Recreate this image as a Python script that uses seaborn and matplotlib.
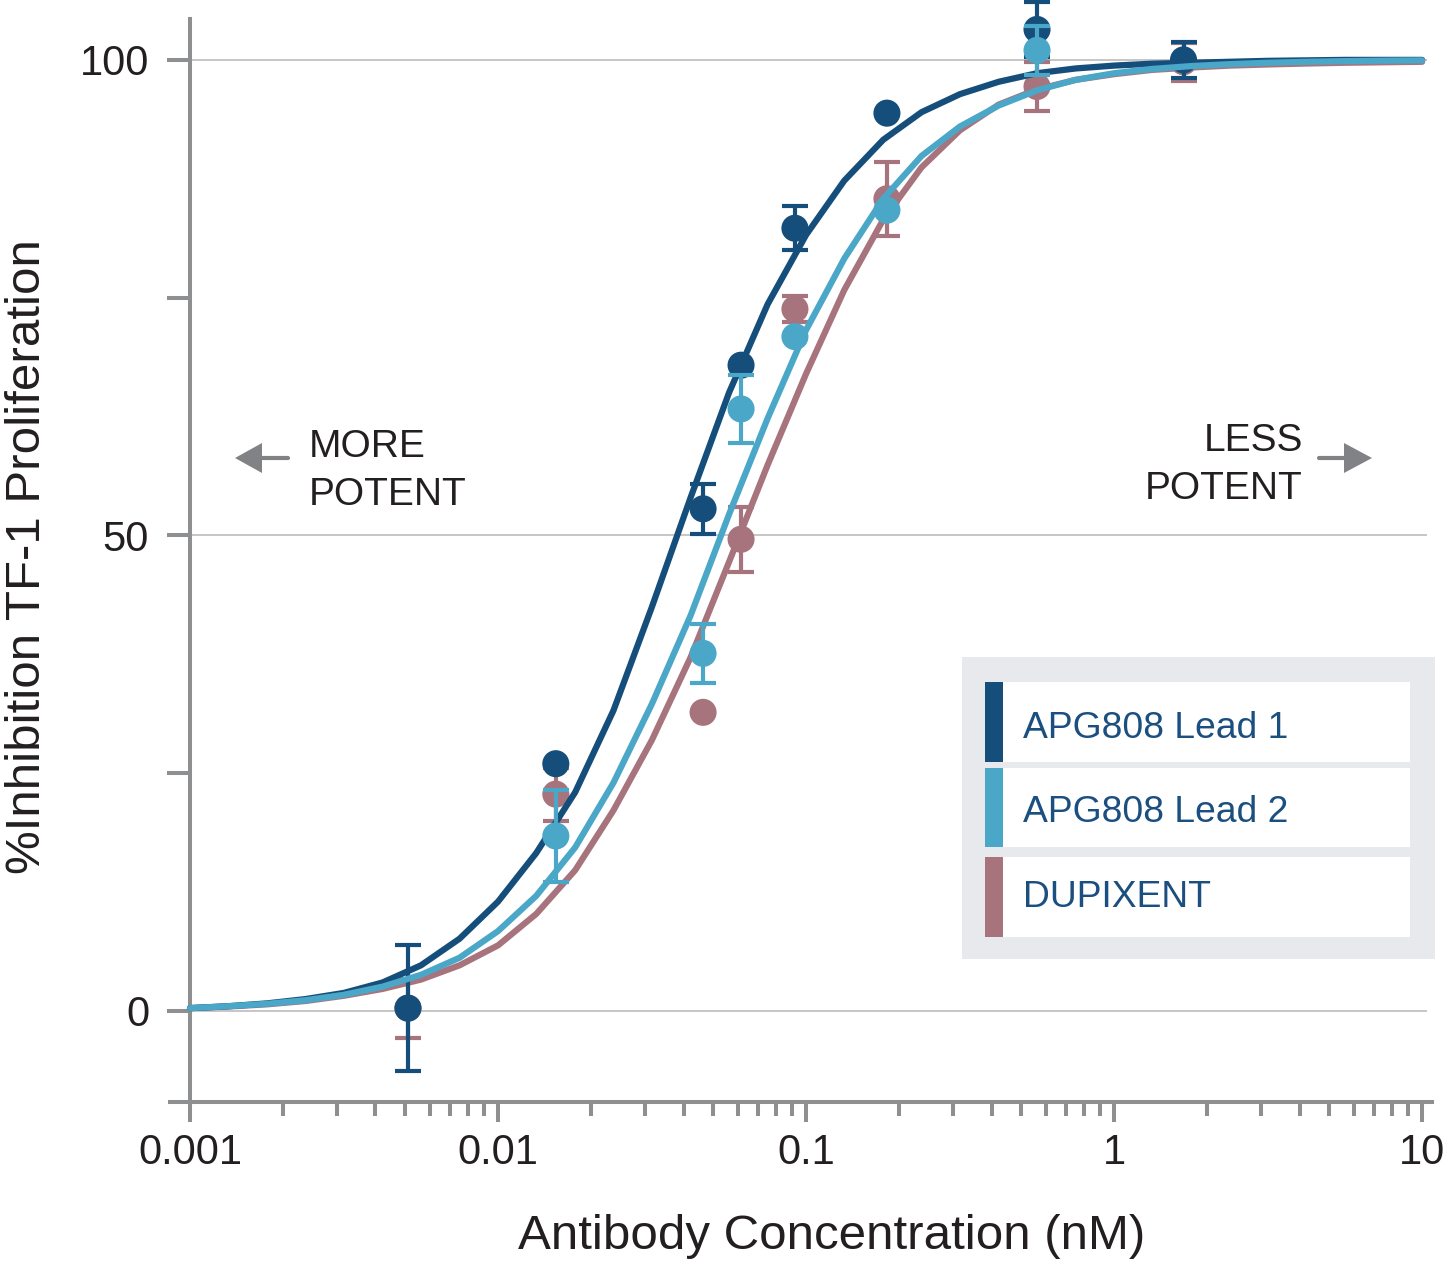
"""
Dose-response: %inhibition of TF-1 proliferation vs antibody concentration.
Saves out.png (1449x1264).
"""
import numpy as np
import pandas as pd
import matplotlib
matplotlib.use("Agg")
import matplotlib.pyplot as plt
from matplotlib.patches import Rectangle, Polygon
from matplotlib.lines import Line2D
from matplotlib.ticker import FixedLocator, NullFormatter
import seaborn as sns

# ---- data --------------------------------------------------------------
series_names = ["DUPIXENT", "APG808 Lead 1", "APG808 Lead 2"]   # draw order
legend_names = ["APG808 Lead 1", "APG808 Lead 2", "DUPIXENT"]

# fitted curves (nM, % inhibition)
curve_conc = [0.001, 0.00133, 0.00178, 0.00237, 0.00316, 0.00422, 0.00562,
              0.0075, 0.01, 0.0133, 0.0178, 0.0237, 0.0316, 0.0422, 0.0562,
              0.075, 0.1, 0.133, 0.178, 0.237, 0.316, 0.422, 0.562, 0.75,
              1.0, 1.33, 1.78, 2.37, 3.16, 4.22, 5.62, 7.5, 10.0]
curve_lead1 = [0.3, 0.5, 0.8, 1.25, 1.9, 3.0, 4.8, 7.6, 11.5, 16.6, 23.0,
               31.6, 42.5, 54.0, 65.0, 74.3, 81.6, 87.3, 91.6, 94.5, 96.4,
               97.7, 98.6, 99.1, 99.4, 99.6, 99.7, 99.8, 99.9, 99.95, 100.0,
               100.0, 100.0]
curve_lead2 = [0.3, 0.5, 0.75, 1.13, 1.7, 2.56, 3.8, 5.6, 8.4, 12.1, 17.2,
               24.0, 32.3, 41.6, 52.2, 62.3, 71.6, 79.1, 85.4, 89.9, 93.0,
               95.2, 96.8, 97.9, 98.6, 99.05, 99.35, 99.55, 99.7, 99.8, 99.87,
               99.92, 99.95]
curve_dupi = [0.3, 0.47, 0.7, 1.05, 1.6, 2.32, 3.3, 4.8, 6.9, 10.2, 14.8,
              21.1, 28.5, 37.2, 47.2, 57.4, 67.0, 75.8, 83.2, 88.7, 92.6,
              95.3, 96.9, 97.9, 98.5, 98.95, 99.2, 99.4, 99.52, 99.62, 99.7,
              99.75, 99.8]

# measured points, mean +/- error (0 = bar hidden behind marker)
point_conc = [0.0051, 0.0154, 0.0463, 0.0615, 0.092, 0.183, 0.562, 1.68]
lead1_mean = [0.3, 26.0, 52.8, 67.9, 82.3, 94.4, 103.2, 100.0]
lead1_err = [6.6, 0.0, 2.6, 0.0, 2.3, 0.0, 2.9, 1.9]
lead2_mean = [np.nan, 18.4, 37.6, 63.3, 70.9, 84.2, 101.0, np.nan]
lead2_err = [np.nan, 4.8, 3.1, 3.6, 0.0, 0.0, 2.6, np.nan]
dupi_mean = [0.3, 22.8, 31.4, 49.6, 73.8, 85.4, 97.2, 99.8]
dupi_err = [3.1, 2.8, 0.0, 3.4, 1.4, 3.9, 2.6, 2.0]

colors = {"APG808 Lead 1": "#154e7b",
          "APG808 Lead 2": "#4ba7c7",
          "DUPIXENT": "#a7747e"}
AXIS_GREY = "#8e8f91"
TEXT_DARK = "#231f20"
LEGEND_TEXT = "#1b4f80"

curves = pd.concat([
    pd.DataFrame({"conc": curve_conc, "pct": curve_lead1, "series": "APG808 Lead 1"}),
    pd.DataFrame({"conc": curve_conc, "pct": curve_lead2, "series": "APG808 Lead 2"}),
    pd.DataFrame({"conc": curve_conc, "pct": curve_dupi, "series": "DUPIXENT"}),
])
points = pd.concat([
    pd.DataFrame({"conc": point_conc, "pct": lead1_mean, "err": lead1_err, "series": "APG808 Lead 1"}),
    pd.DataFrame({"conc": point_conc, "pct": lead2_mean, "err": lead2_err, "series": "APG808 Lead 2"}),
    pd.DataFrame({"conc": point_conc, "pct": dupi_mean, "err": dupi_err, "series": "DUPIXENT"}),
]).dropna()

# ---- figure ------------------------------------------------------------
sns.set_theme(style="white")
plt.rcParams["font.family"] = ["Liberation Sans", "DejaVu Sans"]

W, H = 1449, 1264
fig = plt.figure(figsize=(W / 100, H / 100), dpi=100)
ax = fig.add_axes([170 / W, (H - 1102) / H, 1262 / W, 1083 / H])
ax.set_xscale("log")
ax.set_xlim(10 ** -3.065, 10 ** 1.032)
ax.set_ylim(-9.57, 104.3)

ax.hlines([0, 50, 100], 0.001, 10.4, color="#c6c6c6", lw=1.4, zorder=0)

for i, name in enumerate(series_names):
    z = 3 + i * 3
    c = colors[name]
    sns.lineplot(data=curves[curves.series == name], x="conc", y="pct",
                 color=c, lw=4.5, estimator=None, ax=ax, zorder=z,
                 legend=False, solid_capstyle="round", solid_joinstyle="round")
    sub = points[points.series == name]
    bars = sub[sub.err > 0]
    eb = ax.errorbar(bars.conc, bars.pct, yerr=bars.err, fmt="none", ecolor=c,
                     elinewidth=3.0, capsize=9.5, capthick=3.0, zorder=z + 1)
    for art in list(eb.lines[1]) + list(eb.lines[2]):
        art.set_clip_on(False)
    sns.scatterplot(data=sub, x="conc", y="pct", color=c, s=380,
                    edgecolor="none", ax=ax, zorder=z + 2, clip_on=False,
                    legend=False)

# axes styling
for side in ["top", "right"]:
    ax.spines[side].set_visible(False)
ax.spines["left"].set_position(("data", 0.001))
for side in ["left", "bottom"]:
    ax.spines[side].set_color(AXIS_GREY)
    ax.spines[side].set_linewidth(2.9)

ax.set_xticks([0.001, 0.01, 0.1, 1, 10])
ax.set_xticklabels(["0.001", "0.01", "0.1", "1", "10"])
ax.xaxis.set_minor_locator(FixedLocator(
    [k * 10.0 ** e for e in range(-3, 1) for k in range(2, 10)]))
ax.xaxis.set_minor_formatter(NullFormatter())
ax.set_yticks([0, 25, 50, 75, 100])
ax.set_yticklabels(["0", "", "50", "", "100"])

ax.tick_params(axis="x", which="major", direction="out", length=14.5,
               width=2.9, color=AXIS_GREY, pad=8, labelsize=30,
               labelcolor=TEXT_DARK, bottom=True)
ax.tick_params(axis="x", which="minor", direction="out", length=10,
               width=2.9, color=AXIS_GREY, bottom=True)
ax.tick_params(axis="y", direction="out", length=16.5, width=2.9,
               color=AXIS_GREY, pad=13, labelsize=30, labelcolor=TEXT_DARK,
               left=True)
ax.set_xlabel("")
ax.set_ylabel("")

fig.text(832 / W, 1 - 1249 / H, "Antibody Concentration (nM)", ha="center",
         va="baseline", fontsize=35.5, color=TEXT_DARK)
fig.text(28 / W, 1 - 557 / H, "%Inhibition TF-1 Proliferation", ha="center",
         va="center", rotation=90, fontsize=35.5, color=TEXT_DARK)

# potency annotations
fig.text(309 / W, 1 - 457 / H, "MORE", ha="left", va="baseline",
         fontsize=28, color=TEXT_DARK)
fig.text(309 / W, 1 - 505 / H, "POTENT", ha="left", va="baseline",
         fontsize=28, color=TEXT_DARK)
fig.text(1303 / W, 1 - 451 / H, "LESS", ha="right", va="baseline",
         fontsize=28, color=TEXT_DARK)
fig.text(1303 / W, 1 - 499 / H, "POTENT", ha="right", va="baseline",
         fontsize=28, color=TEXT_DARK)

ARROW_GREY = "#808285"
px = fig.dpi_scale_trans


def arrow(x_tail, x_base, x_tip, y):
    yy = (H - y) / 100
    fig.add_artist(Line2D([x_tail / 100, x_base / 100], [yy, yy], lw=3,
                          color=ARROW_GREY, transform=px))
    fig.add_artist(Polygon([(x_base / 100, yy + 0.15), (x_tip / 100, yy),
                            (x_base / 100, yy - 0.15)], closed=True,
                           color=ARROW_GREY, lw=0, transform=px))


arrow(288, 262, 235, 458)
arrow(1319, 1344, 1372, 458)

# custom legend panel
def rect_px(x0, y0, x1, y1, color):
    fig.add_artist(Rectangle((x0 / W, 1 - y1 / H), (x1 - x0) / W,
                             (y1 - y0) / H, transform=fig.transFigure,
                             facecolor=color, edgecolor="none", zorder=20))


rect_px(962, 657, 1435, 959, "#e8e9ec")
rows = [(682, 762, 738), (768, 847, 822), (857, 937, 907)]
for name, (top, bot, base) in zip(legend_names, rows):
    rect_px(985, top, 1410, bot, "white")
    rect_px(985, top, 1003, bot, colors[name])
    fig.text(1023 / W, 1 - base / H, name, ha="left", va="baseline",
             fontsize=26.8, color=LEGEND_TEXT, zorder=21)

fig.savefig("out.png", dpi=100)
plt.close(fig)
